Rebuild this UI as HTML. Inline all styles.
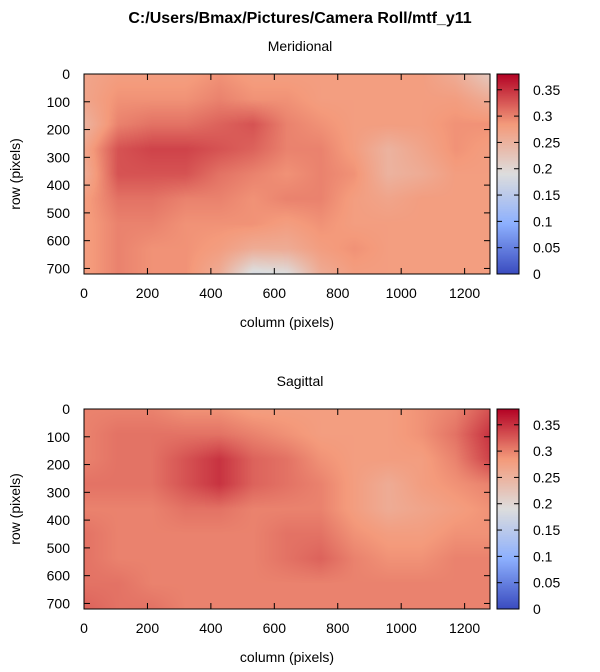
<!DOCTYPE html>
<html><head><meta charset="utf-8"><style>
body{margin:0;background:#fff;font-family:"Liberation Sans",sans-serif;}
#wrap{position:relative;width:600px;height:672px;overflow:hidden;}
canvas{position:absolute;}
svg{position:absolute;left:0;top:0;}
</style></head><body>
<div id="wrap">
<canvas id="hm1" width="406" height="200" style="left:84px;top:74px"></canvas>
<canvas id="hm2" width="406" height="200" style="left:84px;top:409px"></canvas>
<canvas id="cb1" width="22" height="200" style="left:497px;top:74px"></canvas>
<canvas id="cb2" width="22" height="200" style="left:497px;top:409px"></canvas>
<svg id="ax" width="600" height="672"></svg>
</div>
<script>
const xTicks=[0,200,400,600,800,1000,1200];
const yTicks=[0,100,200,300,400,500,600,700];
const cTicks=[0,0.05,0.1,0.15,0.2,0.25,0.3,0.35];
const cTickLabels=["0","0.05","0.1","0.15","0.2","0.25","0.3","0.35"];
const xMax=1280, yMax=720, cMin=0, cMax=0.38;
const meridional=[
[.27,.28,.28,.28,.29,.28,.28,.28,.28,.28,.28,.26,.22],
[.27,.29,.29,.29,.30,.29,.29,.28,.28,.28,.28,.28,.26],
[.25,.30,.31,.31,.32,.33,.30,.29,.28,.28,.28,.29,.29],
[.27,.33,.34,.34,.33,.32,.30,.30,.28,.25,.27,.29,.28],
[.26,.33,.33,.33,.31,.30,.29,.30,.29,.25,.26,.28,.28],
[.28,.31,.31,.30,.30,.29,.30,.30,.28,.27,.28,.28,.28],
[.28,.30,.30,.29,.29,.29,.28,.29,.28,.28,.28,.28,.28],
[.28,.30,.29,.29,.28,.26,.26,.28,.29,.28,.28,.28,.28],
[.28,.30,.29,.29,.26,.18,.19,.26,.28,.28,.28,.28,.28]];
const sagittal=[
[.30,.30,.30,.29,.29,.28,.28,.28,.28,.28,.29,.30,.33],
[.30,.31,.31,.31,.31,.30,.29,.28,.28,.28,.29,.31,.35],
[.30,.31,.31,.33,.35,.32,.31,.29,.28,.28,.28,.30,.34],
[.31,.31,.31,.33,.35,.32,.31,.30,.28,.26,.28,.29,.30],
[.30,.30,.30,.31,.31,.30,.30,.30,.28,.26,.27,.28,.29],
[.31,.30,.30,.30,.30,.30,.31,.31,.29,.28,.28,.29,.29],
[.31,.30,.30,.30,.30,.30,.31,.32,.30,.29,.29,.30,.30],
[.31,.31,.30,.30,.30,.30,.30,.30,.30,.30,.30,.30,.30],
[.32,.31,.31,.30,.30,.30,.30,.30,.30,.30,.30,.30,.30]];
const stops=[[0,[59,76,192]],[0.25,[141,176,254]],[0.5,[221,221,221]],[0.75,[244,154,123]],[1,[180,4,38]]];
function cmap(v){let t=Math.max(0,Math.min(1,(v-cMin)/(cMax-cMin)));
 for(let i=1;i<stops.length;i++){if(t<=stops[i][0]){const a=stops[i-1],b=stops[i];const f=(t-a[0])/(b[0]-a[0]);
 return a[1].map((c,k)=>Math.round(c+(b[1][k]-c)*f));}}return stops[4][1];}
function sample(g,u,v){const R=g.length-1,C=g[0].length-1;const x=u*C,y=v*R;
 const i=Math.min(Math.floor(y),R-1),j=Math.min(Math.floor(x),C-1);const a=x-j,b=y-i;
 return g[i][j]*(1-a)*(1-b)+g[i][j+1]*a*(1-b)+g[i+1][j]*(1-a)*b+g[i+1][j+1]*a*b;}
function drawHM(id,g){const c=document.getElementById(id),ctx=c.getContext('2d');const W=c.width,H=c.height;
 const img=ctx.createImageData(W,H);for(let y=0;y<H;y++)for(let x=0;x<W;x++){const col=cmap(sample(g,x/(W-1),y/(H-1)));
 const p=(y*W+x)*4;img.data[p]=col[0];img.data[p+1]=col[1];img.data[p+2]=col[2];img.data[p+3]=255;}ctx.putImageData(img,0,0);}
function drawCB(id){const c=document.getElementById(id),ctx=c.getContext('2d');
 for(let y=0;y<c.height;y++){const col=cmap(cMax-(y/(c.height-1))*(cMax-cMin));ctx.fillStyle=`rgb(${col})`;ctx.fillRect(0,y,c.width,1);}}
drawHM('hm1',meridional);drawHM('hm2',sagittal);drawCB('cb1');drawCB('cb2');
const svg=document.getElementById('ax');const NS='http://www.w3.org/2000/svg';
function el(tag,attrs,txt){const e=document.createElementNS(NS,tag);for(const k in attrs)e.setAttribute(k,attrs[k]);if(txt!==undefined)e.textContent=txt;svg.appendChild(e);return e;}
function txt(x,y,s,anchor,name,extra){const t=el('text',Object.assign({x:x,y:y,'text-anchor':anchor,'font-size':14,fill:'#000','font-family':'Liberation Sans, sans-serif'},extra||{}),s);
 
 return t;}
const t0=txt(300,23,'C:/Users/Bmax/Pictures/Camera Roll/mtf_y11','middle','chart-title',{'font-weight':'bold','font-size':16});
function panel(top,title,pre){const L=84,R=490,T=top,B=top+200;
 const sx=v=>L+v/xMax*(R-L), sy=v=>T+v/yMax*(B-T);
 const fr=el('rect',{x:L,y:T,width:R-L,height:B-T,fill:'none',stroke:'#000','stroke-width':1});
 
 
 xTicks.forEach(v=>{const x=sx(v);el('line',{x1:x,y1:B,x2:x,y2:B-6,stroke:'#000'});el('line',{x1:x,y1:T,x2:x,y2:T+6,stroke:'#000'});
  txt(x,B+24,String(v),'middle',pre+'-x-tick-label');});
 yTicks.forEach(v=>{const y=sy(v);el('line',{x1:L,y1:y,x2:L+6,y2:y,stroke:'#000'});el('line',{x1:R,y1:y,x2:R-6,y2:y,stroke:'#000'});
  txt(L-14,y+5,String(v),'end',pre+'-y-tick-label');});
 txt(300,T-23,title,'middle',pre+'-subtitle');
 txt(287,B+53,'column (pixels)','middle',pre+'-x-axis-title');
 txt(20,(T+B)/2,'row (pixels)','middle',pre+'-y-axis-title',{transform:`rotate(-90 20 ${(T+B)/2})`});
 const cL=497,cR=519;const cf=el('rect',{x:cL,y:T,width:cR-cL,height:200,fill:'none',stroke:'#000'});
 
 
 const cy=v=>B-(v-cMin)/(cMax-cMin)*200;
 cTicks.forEach((v,i)=>{const y=cy(v);el('line',{x1:cL,y1:y,x2:cL+5,y2:y,stroke:'#000'});el('line',{x1:cR,y1:y,x2:cR-5,y2:y,stroke:'#000'});
  txt(533,y+5,cTickLabels[i],'start',pre+'-colorbar-tick-label');});
}
panel(74,'Meridional','meridional');panel(409,'Sagittal','sagittal');
</script>
</body></html>
